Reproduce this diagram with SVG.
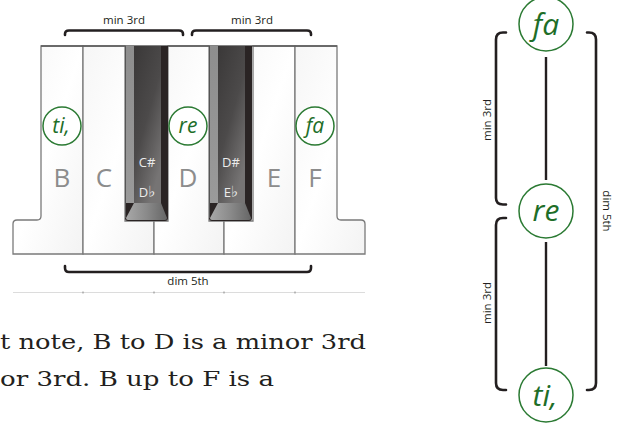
<svg xmlns="http://www.w3.org/2000/svg" xmlns:xlink="http://www.w3.org/1999/xlink" width="622" height="425" viewBox="0 0 622 425">
  <style>
    .wk { fill: url(#wgrad); stroke: #7a7a7a; stroke-width: 1.3; }
    .note { font-family: "Open Sans", "Noto Sans", sans-serif; font-size: 26px; fill: #8c8c8c; text-anchor: middle; }
    .acc { font-family: "Open Sans", "DejaVu Sans", sans-serif; font-size: 13px; fill: #ececec; text-anchor: middle; }
    .flat { font-family: "DejaVu Sans", sans-serif; font-size: 15px; }
    .lbl { font-family: "Open Sans", "Noto Sans", sans-serif; font-size: 11.5px; fill: #231f20; text-anchor: middle; }
    .br { fill: none; stroke: #231f20; stroke-width: 2.6; stroke-linecap: round; stroke-linejoin: round; }
    .circ { fill: #ffffff; stroke: #2b7a33; stroke-width: 1.5; }
    .sol { font-family: "Open Sans", "Noto Sans", sans-serif; font-style: italic; fill: #1e6e28; text-anchor: middle; }
    .conn { stroke: #231f20; stroke-width: 2.4; }
    .body { font-family: "DejaVu Serif", "Liberation Serif", serif; font-size: 21px; fill: #231f20; }
  </style>
  <defs>
    <linearGradient id="wgrad" x1="0" y1="0" x2="1" y2="1">
      <stop offset="0" stop-color="#f6f6f6"/>
      <stop offset="0.5" stop-color="#ffffff"/>
      <stop offset="1" stop-color="#f3f3f3"/>
    </linearGradient>
    <linearGradient id="bbody" x1="0" y1="0" x2="0.6" y2="1">
      <stop offset="0" stop-color="#3a3838"/>
      <stop offset="0.55" stop-color="#4c4a4a"/>
      <stop offset="1" stop-color="#767474"/>
    </linearGradient>
    <linearGradient id="bleft" x1="0" y1="0" x2="0" y2="1">
      <stop offset="0" stop-color="#8e8e8e"/>
      <stop offset="1" stop-color="#9a9a9a"/>
    </linearGradient>
    <linearGradient id="bfront" x1="0" y1="0" x2="1" y2="0">
      <stop offset="0" stop-color="#a8a8a8"/>
      <stop offset="0.5" stop-color="#8a8a8a"/>
      <stop offset="1" stop-color="#666666"/>
    </linearGradient>
    <g id="blackkey">
      <path d="M0,0 H43 V172 Q43,175 40,175 H3 Q0,175 0,172 Z" fill="#2a2424"/>
      <rect x="1" y="0" width="8" height="157" fill="url(#bleft)"/>
      <rect x="9" y="0" width="27" height="157" fill="url(#bbody)"/>
      <path d="M9,157 H36 L42,172 Q42,174 40,174 H3 Q1,174 1,172 Z" fill="url(#bfront)"/>
      <path d="M0.5,0 V172" stroke="#555" stroke-width="1" fill="none"/>
    </g>
  </defs>

  <rect width="622" height="425" fill="#ffffff"/>

  <!-- Keyboard -->
  <g id="keyboard">
    <path id="key-B" class="wk" d="M41,46 H83 V254 H13 V224 Q13,220 17,220 H37 Q41,220 41,216 Z"/>
    <path id="key-C" class="wk" d="M83,46 H125 V221 H154 V254 H83 Z"/>
    <path id="key-D" class="wk" d="M168,46 H209 V221 H224 V254 H154 V221 H168 Z"/>
    <path id="key-E" class="wk" d="M253,46 H295 V254 H224 V221 H253 Z"/>
    <path id="key-F" class="wk" d="M295,46 H337 V216 Q337,220 341,220 H361 Q365,220 365,224 V254 H295 Z"/>
    <line x1="41" y1="46" x2="337" y2="46" stroke="#5a5a5a" stroke-width="1.5"/>
    <use id="key-Cs" xlink:href="#blackkey" href="#blackkey" transform="translate(125,46)"/>
    <use id="key-Ds" xlink:href="#blackkey" href="#blackkey" transform="translate(209,46)"/>
    <text class="note" x="62" y="187">B</text>
    <text class="note" x="104" y="187">C</text>
    <text class="note" x="188" y="187">D</text>
    <text class="note" x="274" y="187">E</text>
    <text class="note" x="315" y="187">F</text>
    <text class="acc" x="147" y="167">C#</text>
    <text class="acc" x="147" y="197">D<tspan class="flat">♭</tspan></text>
    <text class="acc" x="231" y="167">D#</text>
    <text class="acc" x="231" y="197">E<tspan class="flat">♭</tspan></text>
  </g>

  <!-- baseline strip -->
  <g id="strip">
    <line x1="13" y1="292.5" x2="365" y2="292.5" stroke="#dcdcdc" stroke-width="1"/>
    <g stroke="#8a8a8a" stroke-width="1">
      <line x1="83" y1="291.5" x2="83" y2="293.5"/>
      <line x1="154" y1="291.5" x2="154" y2="293.5"/>
      <line x1="224" y1="291.5" x2="224" y2="293.5"/>
      <line x1="295" y1="291.5" x2="295" y2="293.5"/>
    </g>
  </g>

  <!-- keyboard brackets -->
  <g id="brackets-keyboard">
    <path class="br" d="M65,35 V34 Q65,30.5 69,30.5 H179 Q183,30.5 183,34 V35"/>
    <text class="lbl" x="124" y="24">min 3rd</text>
    <path class="br" d="M192,35 V34 Q192,30.5 196,30.5 H307 Q311,30.5 311,34 V35"/>
    <text class="lbl" x="252" y="24">min 3rd</text>
    <path class="br" d="M65,266 V268 Q65,272 69,272 H307 Q311,272 311,268 V266"/>
    <text class="lbl" x="188" y="285">dim 5th</text>
  </g>

  <!-- keyboard solfege nodes -->
  <g id="kb-ti">
    <circle class="circ" cx="62" cy="126" r="19"/>
    <text class="sol" x="61" y="133" font-size="21">ti,</text>
  </g>
  <g id="kb-re">
    <circle class="circ" cx="188" cy="126" r="19"/>
    <text class="sol" x="188" y="133" font-size="21">re</text>
  </g>
  <g id="kb-fa">
    <circle class="circ" cx="315" cy="126" r="19"/>
    <text class="sol" x="315" y="133" font-size="21">fa</text>
  </g>

  <!-- body text -->
  <text class="body" x="0" y="349" textLength="366" lengthAdjust="spacingAndGlyphs">t note, B to D is a minor 3rd</text>
  <text class="body" x="0" y="386" textLength="274" lengthAdjust="spacingAndGlyphs">or 3rd. B up to F is a</text>

  <!-- right-hand diagram connectors -->
  <g id="connectors">
    <line class="conn" x1="546" y1="57" x2="546" y2="180"/>
    <line class="conn" x1="546" y1="242" x2="546" y2="366"/>
  </g>

  <g id="brackets-right">
    <path class="br" d="M506,32.5 H503 Q496,32.5 496,39.5 V198 Q496,204.5 503,204.5 H506"/>
    <text class="lbl" transform="translate(491,120) rotate(-90)">min 3rd</text>
    <path class="br" d="M506,218 H503 Q496,218 496,225 V383 Q496,390 503,390 H506"/>
    <text class="lbl" transform="translate(491,303) rotate(-90)">min 3rd</text>
    <path class="br" d="M587,32.5 H589 Q596,32.5 596,39.5 V383 Q596,390 589,390 H587"/>
    <text class="lbl" transform="translate(603,211) rotate(90)">dim 5th</text>
  </g>

  <g id="node-fa">
    <circle class="circ" cx="546" cy="24" r="27"/>
    <text class="sol" x="546" y="35" font-size="30">fa</text>
  </g>
  <g id="node-re">
    <circle class="circ" cx="546" cy="211" r="27"/>
    <text class="sol" x="546" y="221" font-size="30">re</text>
  </g>
  <g id="node-ti">
    <circle class="circ" cx="546" cy="395" r="27"/>
    <text class="sol" x="545" y="406" font-size="30">ti,</text>
  </g>
</svg>
